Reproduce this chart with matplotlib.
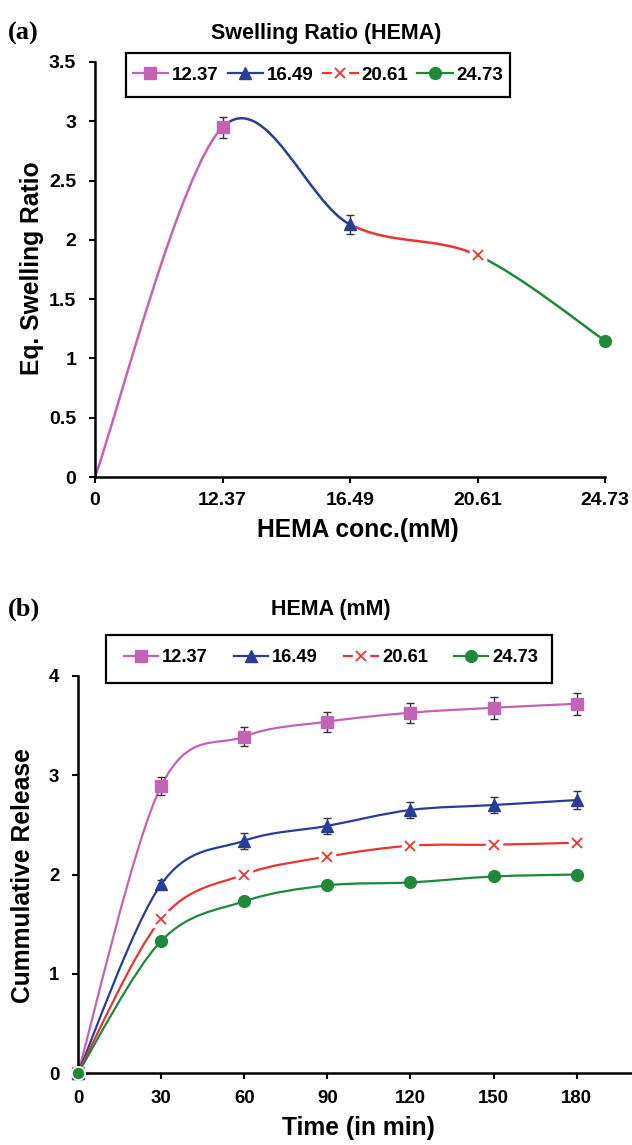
import numpy as np
import matplotlib
matplotlib.use("Agg")
import matplotlib.pyplot as plt
from matplotlib.path import Path
from matplotlib.patches import PathPatch, Rectangle
from matplotlib.lines import Line2D
from matplotlib.legend_handler import HandlerTuple

plt.rcParams['font.family'] = ['Liberation Sans', 'DejaVu Sans']
plt.rcParams['font.weight'] = 'bold'

# ---- panel (a) data ----
conc_labels = ["0", "12.37", "16.49", "20.61", "24.73"]
swell_vals = [0, 2.95, 2.13, 1.87, 1.15]
swell_err = [0, 0.09, 0.08, 0, 0]

# ---- panel (b) data ----
time_min = [0, 30, 60, 90, 120, 150, 180]
series_names = ["12.37", "16.49", "20.61", "24.73"]
release_1237 = [0, 2.89, 3.39, 3.54, 3.63, 3.68, 3.72]
release_1649 = [0, 1.90, 2.34, 2.49, 2.65, 2.70, 2.75]
release_2061 = [0, 1.55, 2.00, 2.18, 2.29, 2.30, 2.32]
release_2473 = [0, 1.33, 1.73, 1.89, 1.92, 1.98, 2.00]
err_1237 = [0, 0.09, 0.10, 0.10, 0.10, 0.11, 0.11]
err_1649 = [0, 0.04, 0.08, 0.08, 0.08, 0.08, 0.09]
err_2061 = [0, 0.02, 0.02, 0.02, 0.02, 0.05, 0.02]
err_2473 = [0, 0.02, 0.02, 0.02, 0.02, 0.02, 0.02]

colors = ["#C462B6", "#283C98", "#E8352F", "#20883A"]
markers = ["s", "^", "x", "o"]
msizes = [8.5, 8.5, 7.5, 8.5]


def smooth_segments(x, y):
    # excel style smoothing: cubic bezier, control points from neighbours (1/6)
    x = np.asarray(x, float)
    y = np.asarray(y, float)
    n = len(x)
    segs = []
    for i in range(n - 1):
        p0 = np.array([x[max(i - 1, 0)], y[max(i - 1, 0)]])
        p1 = np.array([x[i], y[i]])
        p2 = np.array([x[i + 1], y[i + 1]])
        p3 = np.array([x[min(i + 2, n - 1)], y[min(i + 2, n - 1)]])
        c1 = p1 + (p2 - p0) / 6.0
        c2 = p2 - (p3 - p1) / 6.0
        segs.append(Path([p1, c1, c2, p2],
                         [Path.MOVETO, Path.CURVE4, Path.CURVE4, Path.CURVE4]))
    return segs


def style_axes(ax):
    for s in ["top", "right"]:
        ax.spines[s].set_visible(False)
    for s in ["left", "bottom"]:
        ax.spines[s].set_linewidth(1.8)
    ax.tick_params(direction="out", width=1.5, length=4.5)
    ax.tick_params(axis="y", pad=9)
    ax.tick_params(axis="x", pad=6)


def draw_markers(ax, x, y, k):
    if markers[k] == "x":
        ax.plot(x, y, marker="s", ms=11.5, color="white", ls="none", zorder=3)
        ax.plot(x, y, marker="x", ms=msizes[k], mew=1.3, color=colors[k],
                ls="none", zorder=4)
    else:
        ax.plot(x, y, marker=markers[k], ms=msizes[k], color=colors[k],
                ls="none", zorder=4)


fig = plt.figure(figsize=(6.32, 11.45), dpi=100)

# ================= panel (a) =================
ax1 = fig.add_axes([95 / 632, 1 - 477 / 1145, 510 / 632, 415 / 1145])
xpos = np.arange(len(conc_labels))
segs = smooth_segments(xpos, swell_vals)
for i, seg in enumerate(segs):
    ax1.add_patch(PathPatch(seg, fill=False, edgecolor=colors[i], lw=1.8,
                            zorder=2, capstyle="butt"))
ax1.errorbar(xpos[1:3], swell_vals[1:3], yerr=swell_err[1:3], fmt="none",
             ecolor="#333333", elinewidth=1, capsize=3, zorder=3)
for i in range(4):
    draw_markers(ax1, xpos[i + 1], swell_vals[i + 1], i)

ax1.set_xlim(0, 4)
ax1.set_ylim(0, 3.5)
ax1.set_xticks(xpos)
ax1.set_xticklabels(conc_labels)
ax1.set_yticks(np.arange(0, 3.51, 0.5))
ax1.set_yticklabels(["0", "0.5", "1", "1.5", "2", "2.5", "3", "3.5"])
style_axes(ax1)
ax1.tick_params(labelsize=14)
for art in ax1.lines:
    art.set_clip_on(False)

# ================= panel (b) =================
ax2 = fig.add_axes([78 / 632, 1 - 1073 / 1145, (632 - 78) / 632, 397 / 1145])
rel_series = [release_1237, release_1649, release_2061, release_2473]
err_series = [err_1237, err_1649, err_2061, err_2473]
for k in range(4):
    for seg in smooth_segments(time_min, rel_series[k]):
        ax2.add_patch(PathPatch(seg, fill=False, edgecolor=colors[k], lw=1.6,
                                zorder=2))
    ax2.errorbar(time_min[1:], rel_series[k][1:], yerr=err_series[k][1:],
                 fmt="none", ecolor="#333333", elinewidth=1, capsize=3, zorder=3)
    if markers[k] == "x":
        draw_markers(ax2, time_min[1:], rel_series[k][1:], k)
    else:
        draw_markers(ax2, time_min, rel_series[k], k)
# start point sits on the axes corner with a light rim
ax2.plot(time_min[0], release_2473[0], marker="o", ms=9.5, color=colors[3],
         mec="white", mew=1.2, ls="none", zorder=5)

ax2.set_xlim(0, 200)
ax2.set_ylim(0, 4)
ax2.set_xticks(time_min)
ax2.set_yticks([0, 1, 2, 3, 4])
style_axes(ax2)
ax2.tick_params(labelsize=13.4)
ax2.tick_params(axis="x", pad=8)
for art in ax2.lines:
    art.set_clip_on(False)


# ---- legends ----
def legend_handles():
    hs = []
    for k in range(4):
        if markers[k] == "x":
            line = Line2D([], [], color=colors[k], lw=1.6)
            bg = Line2D([], [], marker="s", ms=12, color="white", ls="none")
            mk = Line2D([], [], marker="x", ms=msizes[k], mew=1.3,
                        color=colors[k], ls="none")
            hs.append((line, bg, mk))
        else:
            hs.append(Line2D([], [], color=colors[k], lw=1.6, marker=markers[k],
                             ms=msizes[k]))
    return hs


legend_specs = [
    # box (left, top, right, bottom) in px, content centre, fontsize, colspacing
    ((126, 53, 510, 97), (318, 75), 13.5, 0.48),
    ((106, 635, 552, 683), (331, 658), 13.2, 1.42),
]
for (bx, (cx, cy), fs, csp) in legend_specs:
    left, top, right, bottom = bx
    fig.add_artist(Rectangle((left / 632, 1 - bottom / 1145),
                             (right - left) / 632, (bottom - top) / 1145,
                             transform=fig.transFigure, fill=False,
                             edgecolor="black", lw=1.6))
    fig.legend(legend_handles(), series_names, loc="center",
               bbox_to_anchor=(cx / 632, 1 - cy / 1145), ncol=4, fontsize=fs,
               frameon=False, handlelength=1.87, handletextpad=0.22,
               columnspacing=csp, borderpad=0.0, borderaxespad=0.0,
               handler_map={tuple: HandlerTuple(ndivide=1, pad=0)})

# ---- titles and labels ----
fig.text(8 / 632, 1 - 33 / 1145, "(a)", family="Liberation Serif", fontsize=19,
         weight="bold", va="center", ha="left")
fig.text(326 / 632, 1 - 33 / 1145, "Swelling Ratio (HEMA)", fontsize=15.5,
         va="center", ha="center")
fig.text(32 / 632, 1 - 268 / 1145, "Eq. Swelling Ratio", fontsize=17.7,
         rotation=90, va="center", ha="center")
fig.text(358 / 632, 1 - 530 / 1145, "HEMA conc.(mM)", fontsize=17.7,
         va="center", ha="center")

fig.text(8 / 632, 1 - 609 / 1145, "(b)", family="Liberation Serif", fontsize=19,
         weight="bold", va="center", ha="left")
fig.text(331 / 632, 1 - 609 / 1145, "HEMA (mM)", fontsize=15.5,
         va="center", ha="center")
fig.text(23 / 632, 1 - 876 / 1145, "Cummulative Release", fontsize=17.7,
         rotation=90, va="center", ha="center")
fig.text(358 / 632, 1 - 1128 / 1145, "Time (in min)", fontsize=17.7,
         va="center", ha="center")

fig.savefig("out.png", dpi=100)
